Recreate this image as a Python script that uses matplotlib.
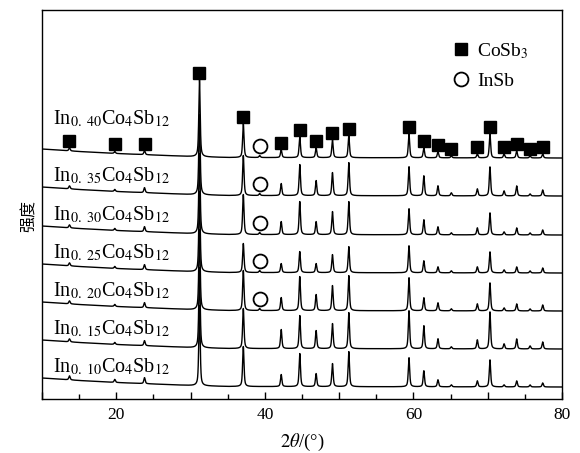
"""Stacked XRD patterns of In-filled CoSb3 skutterudites."""

import matplotlib
import matplotlib.pyplot as plt
import numpy as np
from matplotlib.lines import Line2D
from matplotlib.ticker import MultipleLocator, FuncFormatter

matplotlib.use("Agg")

plt.rcParams["font.family"] = ["Liberation Serif", "Noto Sans CJK SC"]
plt.rcParams["mathtext.fontset"] = "stix"

# Sample fill fractions, bottom to top
samples = ["0.10", "0.15", "0.20", "0.25", "0.30", "0.35", "0.40"]

# CoSb3 reflections (2theta, deg)
cosb3_pos = [13.7, 19.8, 23.8, 31.2, 37.1, 42.2, 44.7, 46.9, 49.1, 51.3,
             59.4, 61.4, 63.3, 65.1, 68.6, 70.3, 72.2, 73.9, 75.7, 77.4]

# Peak heights (a.u.) per sample, same order as cosb3_pos
h_010 = [4, 3, 6, 80, 40, 12, 33, 13, 23, 35, 29, 16, 7, 2, 6, 27, 2, 6, 2, 4]
h_015 = [3, 2, 5, 80, 40, 19, 33, 18, 25, 36, 38, 23, 10, 2, 9, 37, 5, 10, 3, 7]
h_020 = [3, 2, 5, 80, 40, 13, 34, 16, 25, 35, 33, 13, 8, 2, 7, 28, 3, 7, 2, 6]
h_025 = [3, 2, 5, 80, 29, 9, 21, 9, 18, 26, 27, 12, 6, 2, 6, 21, 3, 6, 2, 5]
h_030 = [3, 2, 5, 80, 40, 13, 33, 13, 23, 33, 26, 15, 8, 2, 7, 22, 3, 7, 2, 5]
h_035 = [3, 2, 5, 80, 40, 12, 31, 15, 23, 33, 29, 20, 10, 3, 7, 29, 5, 10, 2, 6]
h_040 = [3, 2, 4, 77, 34, 8, 21, 10, 18, 22, 24, 10, 6, 2, 4, 24, 4, 7, 2, 4]
heights = [h_010, h_015, h_020, h_025, h_030, h_035, h_040]

# InSb impurity reflection and its height per sample
insb_pos = 39.3
insb_h = [0, 0, 2, 2, 2, 2, 2]

# Sloping background at low angle
bg_angle = [10, 15, 20, 25, 30, 35, 80]
bg_level = [9, 6.5, 4.5, 3, 1.5, 0.5, 0]

# Vertical offsets of the stacked patterns
offsets = [12, 50, 88, 126, 164, 203, 241]


def peak(x, center, height, fwhm=0.22, eta=0.6):
    """Pseudo-Voigt line profile."""
    u = (x - center) / fwhm
    gauss = np.exp(-4 * np.log(2) * u ** 2)
    lorentz = 1.0 / (1.0 + 4 * u ** 2)
    return height * (eta * lorentz + (1 - eta) * gauss)


def pattern(x, hts, insb):
    y = np.interp(x, bg_angle, bg_level)
    for c, h in zip(cosb3_pos, hts):
        y += peak(x, c, h)
    y += peak(x, insb_pos, insb)
    return y


fig = plt.figure(figsize=(5.8, 4.53), dpi=100)
ax = fig.add_axes([0.0724, 0.1192, 0.8966, 0.8587])

tt = np.linspace(10, 80, 7001)
for name, hts, ins, off in zip(samples, heights, insb_h, offsets):
    ax.plot(tt, pattern(tt, hts, ins) + off, color="black", lw=1.0)
    gap = 39 if name == "0.40" else 20
    ax.text(11.5, off + gap,
            r"In$_{\mathrm{0.\ %s}}$Co$_{\mathrm{4}}$Sb$_{\mathrm{12}}$" % name[2:],
            fontsize=14.5, ha="left", va="center")

# Phase markers: CoSb3 over the top pattern, InSb over patterns that show it
top = len(samples) - 1
top_peaks = pattern(np.array(cosb3_pos), heights[top], 0) + offsets[top]
ax.plot(cosb3_pos, top_peaks + 7, ls="none", marker="s", ms=8,
        color="black")
for ins, off in zip(insb_h, offsets):
    if ins > 0:
        ax.plot([insb_pos], [off + 12], ls="none", marker="o", ms=10,
                mfc="white", mec="black", mew=1.3)

handles = [
    Line2D([], [], ls="none", marker="s", ms=8, color="black"),
    Line2D([], [], ls="none", marker="o", ms=10, mfc="white",
           mec="black", mew=1.3),
]
ax.legend(handles, [r"CoSb$_3$", "InSb"], loc="upper left",
          bbox_to_anchor=(0.754, 0.965), frameon=False, fontsize=14,
          handlelength=1.0, handletextpad=0.3, labelspacing=0.6)

ax.set_xlim(10, 80)
ax.set_ylim(0, 389)
ax.xaxis.set_major_locator(MultipleLocator(10))
ax.xaxis.set_minor_locator(MultipleLocator(5))
ax.xaxis.set_major_formatter(
    FuncFormatter(lambda v, p: f"{v:.0f}" if round(v) % 20 == 0 else ""))
ax.tick_params(axis="x", which="major", direction="in", length=5, width=1,
               labelsize=12.5, pad=6)
ax.tick_params(axis="x", which="minor", direction="in", length=3.5, width=1)
ax.set_yticks([])
for s in ax.spines.values():
    s.set_linewidth(1.0)

ax.set_xlabel(r"$2\theta$/(°)", fontsize=13.5, labelpad=6)
ax.set_ylabel("强度", fontsize=11.5, family=["Noto Sans CJK SC"])
ax.yaxis.set_label_coords(-0.008, 0.47)

fig.savefig("out.png", dpi=100)
